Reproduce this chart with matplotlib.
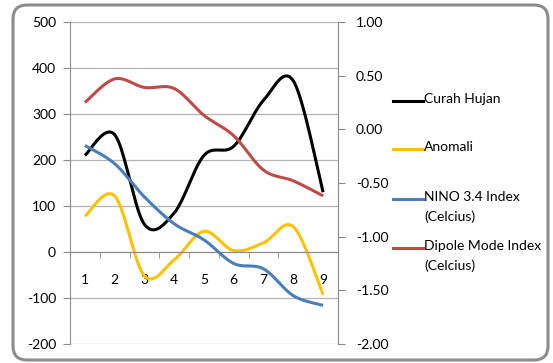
import numpy as np
import matplotlib
matplotlib.use("Agg")
import matplotlib.pyplot as plt
from matplotlib.patches import FancyBboxPatch
from matplotlib.lines import Line2D
from matplotlib.transforms import IdentityTransform

categories = ['1', '2', '3', '4', '5', '6', '7', '8', '9']
curah_hujan = [210, 255, 60, 85, 210, 230, 330, 372, 130]
anomali = [78, 122, -52, -17, 45, 3, 20, 55, -93]
nino34 = [-0.15, -0.32, -0.63, -0.88, -1.03, -1.25, -1.30, -1.55, -1.64]
dmi = [0.25, 0.47, 0.39, 0.38, 0.13, -0.06, -0.38, -0.48, -0.62]
left_ticks = [-200, -100, 0, 100, 200, 300, 400, 500]
right_ticks = [-2.0, -1.5, -1.0, -0.5, 0.0, 0.5, 1.0]
series_names = ['Curah Hujan', 'Anomali', 'NINO 3.4 Index\n(Celcius)',
                'Dipole Mode Index\n(Celcius)']
colors = ['#000000', '#FFC000', '#4A7EBB', '#BE4B48']

W, H = 553, 363
plt.rcParams['font.family'] = ['Lato', 'DejaVu Sans']


def smooth(x, y, n=40):
    """Excel-style smoothed line (Catmull-Rom as cubic Bezier)."""
    P = np.column_stack([x, y]).astype(float)
    out = []
    t = np.linspace(0, 1, n)[:, None]
    for i in range(len(P) - 1):
        p0 = P[i - 1] if i > 0 else P[i]
        p1, p2 = P[i], P[i + 1]
        p3 = P[i + 2] if i + 2 < len(P) else P[i + 1]
        c1 = p1 + (p2 - p0) / 6.0
        c2 = p2 - (p3 - p1) / 6.0
        seg = ((1 - t) ** 3) * p1 + 3 * ((1 - t) ** 2) * t * c1 + \
            3 * (1 - t) * t ** 2 * c2 + t ** 3 * p2
        out.append(seg if i == 0 else seg[1:])
    out = np.vstack(out)
    return out[:, 0], out[:, 1]


fig = plt.figure(figsize=(W / 100, H / 100), dpi=100, facecolor='white')

# rounded border
border = FancyBboxPatch((13, 3), 535, 355, boxstyle="round,pad=0,rounding_size=14",
                        transform=IdentityTransform(), facecolor='none',
                        edgecolor='#8c8c8c', linewidth=2.2, zorder=5)
fig.patches.append(border)

ax = fig.add_axes([70 / W, 19 / H, 268 / W, 322 / H])
ax.set_facecolor('none')
ax2 = ax.twinx()

x = np.arange(1, len(categories) + 1)
gray = '#8a8a8a'

ax.set_xlim(0.5, len(categories) + 0.5)
ax.set_ylim(-200, 500)
ax2.set_ylim(-2, 1)

ax.set_yticks(left_ticks)
ax.set_yticklabels([str(v) for v in left_ticks])
ax2.set_yticks(right_ticks)
ax2.set_yticklabels(['%.2f' % v for v in right_ticks])

ax.yaxis.grid(True, color='#b4b4b4', linewidth=0.9)
ax.set_axisbelow(True)

for a in (ax, ax2):
    for s in a.spines.values():
        s.set_visible(False)
ax.spines['left'].set_visible(True)
ax.spines['left'].set_color(gray)
ax2.spines['right'].set_visible(True)
ax2.spines['right'].set_color(gray)
ax.spines['bottom'].set_visible(True)
ax.spines['bottom'].set_position(('data', 0))
ax.spines['bottom'].set_color(gray)

ax.set_xticks(x)
ax.set_xticklabels(categories)
ax.set_xticks(np.arange(1.5, len(categories), 1.0), minor=True)
ax.tick_params(axis='x', which='major', length=0, pad=16, labelsize=10, colors='black')
ax.tick_params(axis='x', which='minor', length=4, color=gray, direction='out')
ax.tick_params(axis='y', length=5, color=gray, labelsize=10, pad=5, labelcolor='black')
ax2.tick_params(axis='y', length=5, color=gray, labelsize=10, pad=8, labelcolor='black')

lw = 2.2
for vals, c in ((curah_hujan, colors[0]), (anomali, colors[1])):
    xs, ys = smooth(x, vals)
    ax.plot(xs, ys, color=c, lw=lw, solid_capstyle='butt')
for vals, c in ((nino34, colors[2]), (dmi, colors[3])):
    xs, ys = smooth(x, vals)
    ax2.plot(xs, ys, color=c, lw=lw, solid_capstyle='butt')

# legend (manual, Excel-like)
leg_y = [101, 149, 199, 248]
for name, c, yy in zip(series_names, colors, leg_y):
    fy = 1 - yy / H
    fig.add_artist(Line2D([393 / W, 423 / W], [fy, fy], color=c, lw=lw,
                          transform=fig.transFigure))
    fig.text(424 / W, fy + 8 / H, name, fontsize=10, va='top', ha='left',
             linespacing=1.75, transform=fig.transFigure)

fig.savefig('out.png', dpi=100)
